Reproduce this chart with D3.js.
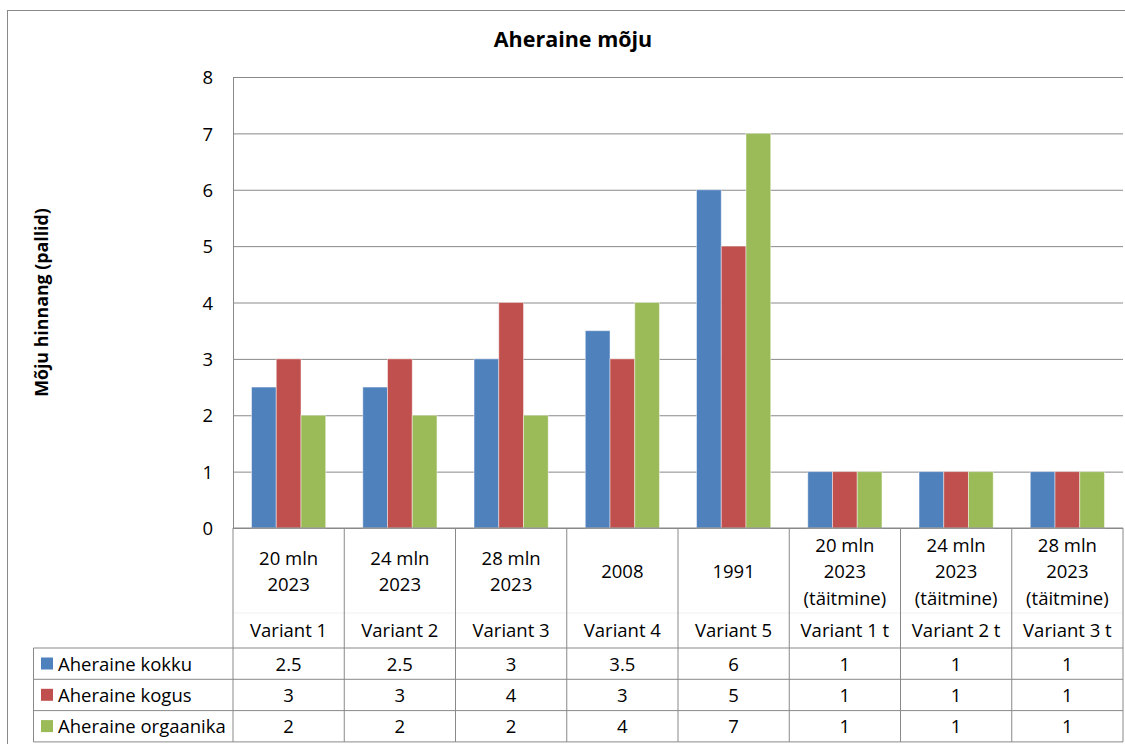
<!DOCTYPE html>
<html>
<head>
<meta charset="utf-8">
<script src="https://cdn.jsdelivr.net/npm/d3@7"></script>
<style>
  html, body { margin: 0; padding: 0; background: #fff; overflow: hidden; }
  svg { display: block; font-family: "Open Sans", "DejaVu Sans", sans-serif; }
</style>
</head>
<body>
<svg id="chart" width="1125" height="744"></svg>
<script>
// Chart data
const chartTitle = "Aheraine mõju";
const yAxisTitle = "Mõju hinnang (pallid)";
const categories = ["Variant 1", "Variant 2", "Variant 3", "Variant 4", "Variant 5", "Variant 1 t", "Variant 2 t", "Variant 3 t"];
const categoryDetails = [
  ["20 mln", "2023"],
  ["24 mln", "2023"],
  ["28 mln", "2023"],
  ["2008"],
  ["1991"],
  ["20 mln", "2023", "(täitmine)"],
  ["24 mln", "2023", "(täitmine)"],
  ["28 mln", "2023", "(täitmine)"]
];
const seriesNames = ["Aheraine kokku", "Aheraine kogus", "Aheraine orgaanika"];
const kokkuValues = [2.5, 2.5, 3, 3.5, 6, 1, 1, 1];
const kogusValues = [3, 3, 4, 3, 5, 1, 1, 1];
const orgaanikaValues = [2, 2, 2, 4, 7, 1, 1, 1];
const yTicks = [0, 1, 2, 3, 4, 5, 6, 7, 8];
const seriesColors = ["#4F81BD", "#C0504D", "#9BBB59"];

const seriesValues = [kokkuValues, kogusValues, orgaanikaValues];

// Layout
const plot = { left: 233, right: 1123, top: 77, bottom: 528 };
const table = { legendLeft: 33.5, headerBottom: 648, rowH: 31.3, splitY: 613 };
const gridColor = "#898989";

const svg = d3.select("#chart");

// Outer chart frame
svg.append("rect")
  .attr("x", 7.5).attr("y", 10.5)
  .attr("width", 1140).attr("height", 760)
  .attr("fill", "none").attr("stroke", gridColor).attr("stroke-width", 1);

// Scales
const x0 = d3.scaleBand().domain(categories).range([plot.left, plot.right]).paddingInner(0).paddingOuter(0);
const x1 = d3.scaleBand().domain(seriesNames).range([0, x0.bandwidth()]).paddingInner(0).paddingOuter(0.75);
const y = d3.scaleLinear().domain([0, 8]).range([plot.bottom, plot.top]);

// Title
svg.append("text")
  .attr("x", 573).attr("y", 47)
  .attr("text-anchor", "middle")
  .attr("font-size", 21.5).attr("font-weight", "bold").attr("fill", "#000")
  .text(chartTitle);

// Y axis title
svg.append("text")
  .attr("transform", `translate(48,${(plot.top + plot.bottom) / 2}) rotate(-90)`)
  .attr("text-anchor", "middle")
  .attr("font-size", 17.8).attr("font-weight", "bold").attr("fill", "#000")
  .text(yAxisTitle);

// Gridlines and y axis
const yAxis = d3.axisLeft(y).tickValues(yTicks).tickSize(-(plot.right - plot.left)).tickPadding(20).tickFormat(d3.format("d"));
const yG = svg.append("g").attr("transform", `translate(${plot.left},0)`).call(yAxis);
yG.select(".domain").attr("stroke", gridColor);
yG.selectAll(".tick line").attr("stroke", gridColor).attr("stroke-width", 1);
yG.selectAll(".tick text")
  .attr("font-size", 18.5).attr("fill", "#000")
  .attr("font-family", "'Open Sans', sans-serif")
  .attr("dy", "0.36em");

// Bars
const groups = svg.append("g").selectAll("g")
  .data(categories)
  .join("g")
  .attr("transform", d => `translate(${x0(d)},0)`);

groups.selectAll("rect")
  .data((c, i) => seriesNames.map((s, si) => ({ series: s, si, value: seriesValues[si][i] })))
  .join("rect")
  .attr("x", d => x1(d.series))
  .attr("width", x1.bandwidth())
  .attr("y", d => y(d.value))
  .attr("height", d => y(0) - y(d.value))
  .attr("fill", d => seriesColors[d.si])
  .attr("stroke", "#fff").attr("stroke-opacity", 0.45).attr("stroke-width", 1);

// Redraw baseline on top of bars
svg.append("line")
  .attr("x1", plot.left).attr("x2", plot.right)
  .attr("y1", y(0)).attr("y2", y(0))
  .attr("stroke", gridColor);

// Data table
const tableBottom = table.headerBottom + table.rowH * seriesNames.length;
const tbl = svg.append("g");

// faint divider between category levels
tbl.append("line")
  .attr("x1", plot.left).attr("x2", plot.right)
  .attr("y1", table.splitY).attr("y2", table.splitY)
  .attr("stroke", "#f0f0f0");

// vertical category separators
const xEdges = categories.map(c => x0(c)).concat([plot.right]);
tbl.selectAll("line.v")
  .data(xEdges)
  .join("line")
  .attr("class", "v")
  .attr("x1", d => d).attr("x2", d => d)
  .attr("y1", plot.bottom).attr("y2", tableBottom)
  .attr("stroke", gridColor);

// horizontal row lines
const rowEdges = d3.range(seriesNames.length + 1).map(i => table.headerBottom + i * table.rowH);
tbl.selectAll("line.h")
  .data(rowEdges)
  .join("line")
  .attr("class", "h")
  .attr("x1", table.legendLeft).attr("x2", plot.right)
  .attr("y1", d => d).attr("y2", d => d)
  .attr("stroke", gridColor);

// legend column left edge
tbl.append("line")
  .attr("x1", table.legendLeft).attr("x2", table.legendLeft)
  .attr("y1", table.headerBottom).attr("y2", tableBottom)
  .attr("stroke", gridColor);

// category labels
const lineGap = 26.5;
categories.forEach((c, i) => {
  const cx = x0(c) + x0.bandwidth() / 2;
  const lines = categoryDetails[i];
  lines.forEach((t, li) => {
    tbl.append("text")
      .attr("x", cx)
      .attr("y", 578 + (li - (lines.length - 1) / 2) * lineGap)
      .attr("text-anchor", "middle")
      .attr("font-size", 18.5).attr("fill", "#000")
      .text(t);
  });
  tbl.append("text")
    .attr("x", cx).attr("y", 637)
    .attr("text-anchor", "middle")
    .attr("font-size", 18.5).attr("fill", "#000")
    .text(c);
});

// legend keys, names and values
seriesNames.forEach((s, si) => {
  const top = table.headerBottom + si * table.rowH;
  tbl.append("rect")
    .attr("x", 41).attr("y", top + 9.5)
    .attr("width", 12).attr("height", 12)
    .attr("fill", seriesColors[si]);
  tbl.append("text")
    .attr("x", 58).attr("y", top + 22.5)
    .attr("font-size", 18.5).attr("fill", "#000")
    .text(s);
  categories.forEach((c, i) => {
    tbl.append("text")
      .attr("x", x0(c) + x0.bandwidth() / 2)
      .attr("y", top + 22.5)
      .attr("text-anchor", "middle")
      .attr("font-size", 18.5).attr("fill", "#000")
      .text(seriesValues[si][i]);
  });
});
</script>
</body>
</html>
